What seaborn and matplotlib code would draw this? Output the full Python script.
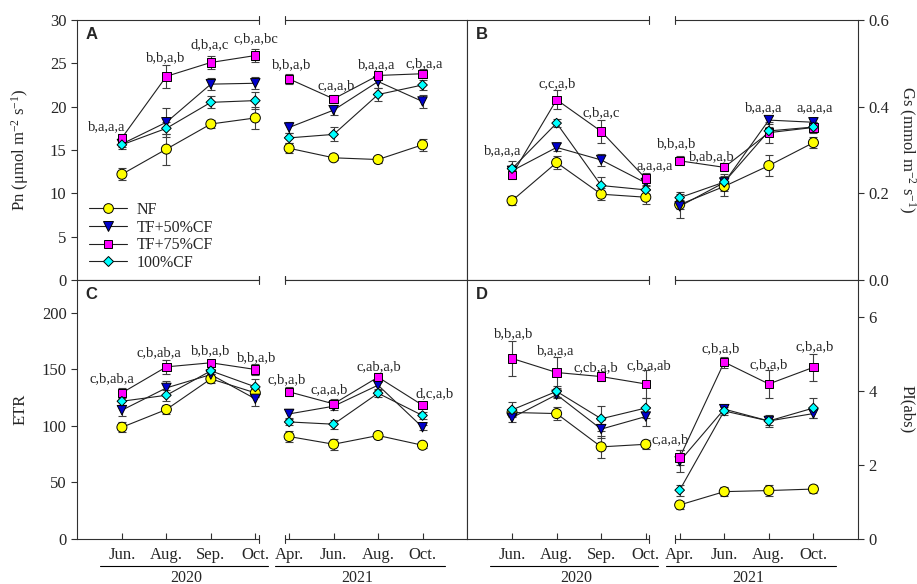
import numpy as np
import pandas as pd
import matplotlib
matplotlib.use("Agg")
import matplotlib.pyplot as plt
from matplotlib.lines import Line2D
from matplotlib.ticker import FormatStrFormatter
import seaborn as sns

#   Data (mean, error) ...
months = ["Jun.", "Aug.", "Sep.", "Oct.", "Apr.", "Jun.", "Aug.", "Oct."]
years = ["2020"] * 4 + ["2021"] * 4
treatments = ["NF", "TF+50%CF", "TF+75%CF", "100%CF"]

# --Pn
pn_nf = [12.2, 15.1, 18.0, 18.7, 15.2, 14.1, 13.9, 15.6]
pn_nf_se = [0.7, 1.8, 0.5, 1.3, 0.6, 0.3, 0.4, 0.7]
pn_50 = [15.7, 18.2, 22.6, 22.7, 17.6, 19.6, 22.9, 20.6]
pn_50_se = [0.4, 1.7, 0.7, 0.7, 0.6, 0.6, 0.7, 0.7]
pn_75 = [16.4, 23.5, 25.1, 25.9, 23.2, 20.9, 23.6, 23.8]
pn_75_se = [0.5, 1.3, 0.8, 0.8, 0.6, 0.5, 0.5, 0.5]
pn_100 = [15.6, 17.5, 20.5, 20.7, 16.4, 16.8, 21.4, 22.5]
pn_100_se = [0.5, 0.7, 0.7, 1.0, 0.6, 0.8, 0.7, 0.6]

# --Gs
gs_nf = [0.183, 0.271, 0.198, 0.191, 0.174, 0.216, 0.264, 0.317]
gs_nf_se = [0.011, 0.016, 0.014, 0.016, 0.010, 0.022, 0.025, 0.013]
gs_50 = [0.252, 0.306, 0.277, 0.224, 0.170, 0.225, 0.369, 0.364]
gs_50_se = [0.010, 0.009, 0.013, 0.014, 0.028, 0.020, 0.010, 0.010]
gs_75 = [0.243, 0.416, 0.343, 0.234, 0.275, 0.260, 0.340, 0.352]
gs_75_se = [0.010, 0.022, 0.027, 0.014, 0.010, 0.009, 0.025, 0.012]
gs_100 = [0.257, 0.362, 0.218, 0.208, 0.190, 0.226, 0.344, 0.353]
gs_100_se = [0.018, 0.010, 0.020, 0.010, 0.012, 0.015, 0.010, 0.012]

# --ETR
etr_nf = [98.8, 114.5, 141.6, 129.2, 90.6, 83.8, 91.5, 82.9]
etr_nf_se = [4.5, 4, 4, 4, 5, 5, 3, 2]
etr_50 = [113.9, 133.6, 145.4, 123.9, 110.6, 117.4, 136.0, 98.8]
etr_50_se = [5, 6, 3, 6, 4, 3, 3, 2]
etr_75 = [129.2, 152.2, 155.8, 149.9, 130.1, 119.5, 143.1, 118.3]
etr_75_se = [4, 6, 2, 5, 4, 4, 4, 2]
etr_100 = [121.8, 127.1, 148.7, 134.5, 103.5, 101.5, 128.9, 109.2]
etr_100_se = [3, 5, 3, 7, 3, 4, 3, 3]

# --PI(abs)
pi_nf = [3.42, 3.39, 2.49, 2.56, 0.92, 1.28, 1.31, 1.35]
pi_nf_se = [0.1, 0.18, 0.3, 0.12, 0.1, 0.12, 0.15, 0.1]
pi_50 = [3.28, 3.90, 2.97, 3.31, 2.10, 3.51, 3.19, 3.39]
pi_50_se = [0.12, 0.1, 0.25, 0.25, 0.3, 0.1, 0.15, 0.12]
pi_75 = [4.88, 4.50, 4.39, 4.19, 2.20, 4.78, 4.19, 4.64]
pi_75_se = [0.48, 0.42, 0.12, 0.38, 0.2, 0.15, 0.38, 0.36]
pi_100 = [3.49, 3.99, 3.25, 3.54, 1.32, 3.46, 3.19, 3.54]
pi_100_se = [0.2, 0.15, 0.34, 0.26, 0.15, 0.1, 0.12, 0.28]

#   letters of significance ...
pn_letters = ["b,a,a,a", "b,b,a,b", "d,b,a,c", "c,b,a,bc", "b,b,a,b", "c,a,a,b", "b,a,a,a", "c,b,a,a"]
gs_letters = ["b,a,a,a", "c,c,a,b", "c,b,a,c", "a,a,a,a", "b,b,a,b", "b,ab,a,b", "b,a,a,a", "a,a,a,a"]
etr_letters = ["c,b,ab,a", "c,b,ab,a", "b,b,a,b", "b,b,a,b", "c,b,a,b", "c,a,a,b", "c,ab,a,b", "d,c,a,b"]
pi_letters = ["b,b,a,b", "b,a,a,a", "c,cb,a,b", "c,b,a,ab", "c,a,a,b", "c,b,a,b", "c,b,a,b", "c,b,a,b"]

# --where the letters sit (x in month slots, y in data units)
pn_lab_x = [-0.34, 0.99, 1.98, 3.01, 3.82, 4.81, 5.73, 6.79]
pn_lab_y = [17.7, 25.6, 27.1, 27.9, 24.8, 22.4, 24.9, 25.0]
gs_lab_x = [-0.22, 1.01, 2.0, 3.19, 3.69, 4.49, 5.64, 6.79]
gs_lab_y = [0.299, 0.454, 0.385, 0.264, 0.315, 0.285, 0.398, 0.398]
etr_lab_x = [-0.22, 0.83, 2.0, 3.03, 3.71, 4.65, 5.78, 7.03]
etr_lab_y = [141.6, 164.6, 166.4, 160.2, 140.7, 131.9, 152.2, 128.3]
pi_lab_x = [0.04, 0.99, 1.87, 3.08, 3.55, 4.67, 5.75, 6.79]
pi_lab_y = [5.54, 5.08, 4.62, 4.68, 2.68, 5.14, 4.70, 5.19]

colors = {"NF": "#FFFF00", "TF+50%CF": "#0000CD", "TF+75%CF": "#FF00FF", "100%CF": "#00FFFF"}
markers = {"NF": "o", "TF+50%CF": "v", "TF+75%CF": "s", "100%CF": "D"}
msizes = {"NF": 52, "TF+50%CF": 46, "TF+75%CF": 36, "100%CF": 24}

#   x layout: 2021 block is shifted after a small axis break
gap = 3.76
xpos = [i for i in range(4)] + [gap + i for i in range(4)]
xlim = (-1.01, 7.76)
brk = (3.08, 3.66)

sns.set_theme(style="white")
plt.rcParams["font.family"] = ["Liberation Serif", "DejaVu Serif"]
plt.rcParams["mathtext.fontset"] = "custom"
plt.rcParams["mathtext.rm"] = "Liberation Serif"
plt.rcParams["mathtext.it"] = "Liberation Serif:italic"
axcol = "#303030"


def broken_frame(ax):
    #   top / bottom spines drawn in two pieces with break marks
    tr = ax.get_xaxis_transform()
    for yy in (0, 1):
        ax.plot([xlim[0], brk[0]], [yy, yy], color=axcol, lw=0.8, transform=tr, clip_on=False)
        ax.plot([brk[1], xlim[1]], [yy, yy], color=axcol, lw=0.8, transform=tr, clip_on=False)
        for xb in brk:
            ax.plot([xb, xb], [yy - 0.017, yy + 0.017], color=axcol, lw=0.8, transform=tr, clip_on=False)


def panel(ax, vals, errs, ylim, yticks, ylabel, letters, lab_x, lab_y, tag, right=False, bottom=False, fmt=None):
    rows = []
    for t, v, e in zip(treatments, vals, errs):
        for i in range(8):
            rows.append(dict(x=xpos[i], val=v[i], se=e[i], trt=t, seg=t + years[i]))
    df = pd.DataFrame(rows)

    sns.lineplot(data=df, x="x", y="val", units="seg", estimator=None, sort=False,
                 color="#202020", lw=0.8, ax=ax, zorder=2)
    ax.errorbar(df["x"], df["val"], yerr=df["se"], fmt="none", ecolor="#404040",
                elinewidth=0.8, capsize=3, capthick=0.8, zorder=3)
    sns.scatterplot(data=df, x="x", y="val", hue="trt", style="trt", size="trt",
                    palette=colors, markers=markers, sizes=msizes, edgecolor="black",
                    linewidth=0.7, legend=False, ax=ax, zorder=4)

    for lab, lx, ly in zip(letters, lab_x, lab_y):
        ax.text(lx, ly, lab, ha="center", va="center", fontsize=10.5)

    ax.set_xlim(*xlim)
    ax.set_ylim(*ylim)
    ax.set_yticks(yticks)
    if fmt:
        ax.yaxis.set_major_formatter(FormatStrFormatter(fmt))
    ax.set_xlabel("")
    ax.set_ylabel("")
    for s in ("top", "bottom"):
        ax.spines[s].set_visible(False)
    for s in ("left", "right"):
        ax.spines[s].set_color(axcol)
        ax.spines[s].set_linewidth(0.8)
    broken_frame(ax)

    ax.set_xticks(xpos)
    if bottom:
        ax.set_xticklabels(months)
        ax.tick_params(axis="x", direction="in", length=4, width=0.8, color=axcol,
                       labelsize=12, pad=6, bottom=True)
        tr = ax.get_xaxis_transform()
        for x0, x1, yr, xc in [(-0.5, 3.28, "2020", 1.45), (3.45, 7.26, "2021", 5.3)]:
            ax.plot([x0, x1], [-0.104, -0.104], color="black", lw=0.8, transform=tr, clip_on=False)
            ax.text(xc, -0.118, yr, ha="center", va="top", fontsize=11.5, transform=tr)
    else:
        ax.tick_params(axis="x", direction="out", length=4, width=0.8, color=axcol,
                       labelbottom=False, bottom=True)

    ax.tick_params(axis="y", direction="out", length=4, width=0.8, color=axcol, labelsize=12)
    if right:
        ax.yaxis.tick_right()
        ax.tick_params(axis="y", left=False, right=True)
        ax.text(1.125, 0.5, ylabel, rotation=270, ha="center", va="center",
                fontsize=12, transform=ax.transAxes)
    else:
        ax.tick_params(axis="y", left=True, right=False)
        ax.text(-0.145, 0.5, ylabel, rotation=90, ha="center", va="center",
                fontsize=12, transform=ax.transAxes)

    ax.text(0.022, 0.945, tag, ha="left", va="center", fontsize=12, fontweight="bold",
            family="Liberation Sans", transform=ax.transAxes)


###     --Display Graph
fig = plt.figure(figsize=(9.17, 5.84), dpi=100)
W, H = 917, 584
axA = fig.add_axes([77 / W, 1 - 280 / H, 390 / W, 260 / H])
axB = fig.add_axes([467 / W, 1 - 280 / H, 391 / W, 260 / H])
axC = fig.add_axes([77 / W, 1 - 539 / H, 390 / W, 259 / H])
axD = fig.add_axes([467 / W, 1 - 539 / H, 391 / W, 259 / H])

panel(axA, [pn_nf, pn_50, pn_75, pn_100], [pn_nf_se, pn_50_se, pn_75_se, pn_100_se],
      (0, 30), range(0, 31, 5), r"Pn (μmol m$\mathregular{^{-2}}$ s$\mathregular{^{-1}}$)",
      pn_letters, pn_lab_x, pn_lab_y, "A")
panel(axB, [gs_nf, gs_50, gs_75, gs_100], [gs_nf_se, gs_50_se, gs_75_se, gs_100_se],
      (0, 0.6), [0, 0.2, 0.4, 0.6], r"Gs (mmol m$\mathregular{^{-2}}$ s$\mathregular{^{-1}}$)",
      gs_letters, gs_lab_x, gs_lab_y, "B", right=True, fmt="%.1f")
panel(axC, [etr_nf, etr_50, etr_75, etr_100], [etr_nf_se, etr_50_se, etr_75_se, etr_100_se],
      (0, 229), range(0, 201, 50), "ETR",
      etr_letters, etr_lab_x, etr_lab_y, "C", bottom=True)
panel(axD, [pi_nf, pi_50, pi_75, pi_100], [pi_nf_se, pi_50_se, pi_75_se, pi_100_se],
      (0, 7), [0, 2, 4, 6], "PI(abs)",
      pi_letters, pi_lab_x, pi_lab_y, "D", right=True, bottom=True)

# legend in panel A
handles = [Line2D([], [], color="#202020", lw=0.8, marker=markers[t], markerfacecolor=colors[t],
                  markeredgecolor="black", markeredgewidth=0.7,
                  markersize={"NF": 7, "TF+50%CF": 7, "TF+75%CF": 6, "100%CF": 5.5}[t])
           for t in treatments]
axA.legend(handles, treatments, loc="lower left", bbox_to_anchor=(0.01, 0.005), frameon=False,
           fontsize=11.5, handlelength=2.4, handletextpad=0.6, labelspacing=0.1, borderpad=0)

fig.savefig("out.png", dpi=100)
